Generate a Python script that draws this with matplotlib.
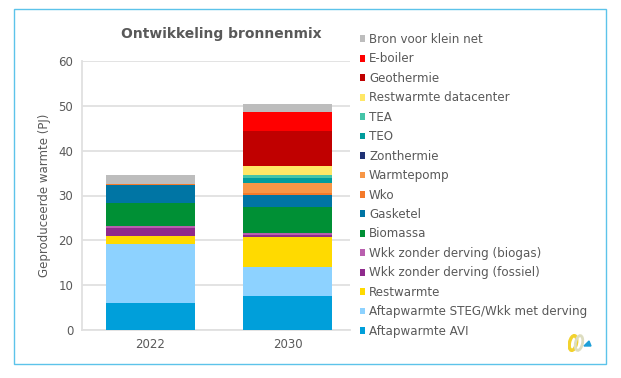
import matplotlib
matplotlib.use("Agg")
import matplotlib.pyplot as plt
from matplotlib.patches import Rectangle, Ellipse, Polygon

years = ["2022", "2030"]

# bottom of the stack first
sources = [
    "Aftapwarmte AVI",
    "Aftapwarmte STEG/Wkk met derving",
    "Restwarmte",
    "Wkk zonder derving (fossiel)",
    "Wkk zonder derving (biogas)",
    "Biomassa",
    "Gasketel",
    "Wko",
    "Warmtepomp",
    "Zonthermie",
    "TEO",
    "TEA",
    "Restwarmte datacenter",
    "Geothermie",
    "E-boiler",
    "Bron voor klein net",
]
values_2022 = [5.95, 13.15, 1.85, 1.7, 0.65, 5.1, 4.0, 0.2, 0, 0, 0, 0, 0, 0, 0, 1.95]
values_2030 = [7.65, 6.4, 6.8, 0.45, 0.3, 5.8, 2.6, 0.6, 2.1, 0, 1.15, 0.8, 1.85, 7.8, 4.25, 1.95]
colors = [
    "#009FDA", "#8DD2FF", "#FFDA00", "#8F2A8C", "#B95FAE", "#009035",
    "#0075A4", "#F47A2A", "#F79646", "#1F3275", "#009C9C", "#45C4A8",
    "#FFE766", "#C00000", "#FF0000", "#BDBDBD",
]
yticks = [0, 10, 20, 30, 40, 50, 60]

W, H = 621, 378
text_color = "#595959"
grid_color = "#E0E0E0"

fig = plt.figure(figsize=(W / 100, H / 100), dpi=100)

# light blue frame round the slide
fig.add_artist(Rectangle((14 / W, 1 - 364 / H), (606 - 14) / W, (364 - 9) / H,
                         transform=fig.transFigure, fill=False, edgecolor="#5CC3EA", linewidth=1))

ax = fig.add_axes([81.5 / W, 1 - 330 / H, (350.5 - 81.5) / W, (330 - 61) / H])

step = 137.4
bottoms = [0, 0]
for name, c, a, b in zip(sources, colors, values_2022, values_2030):
    ax.bar([0, 1], [a, b], width=0.645, bottom=bottoms, color=c, label=name, zorder=3)
    bottoms = [bottoms[0] + a, bottoms[1] + b]

ax.set_ylim(0, 60)
ax.set_xlim(-0.5, -0.5 + (350.5 - 81.5) / step)
ax.set_xticks([0, 1])
ax.set_xticklabels(years)
ax.set_yticks(yticks)
ax.grid(axis="y", color=grid_color, linewidth=1.3, zorder=0)
ax.set_axisbelow(True)
ax.spines["top"].set_visible(False)
ax.spines["right"].set_visible(False)
ax.spines["left"].set_color(grid_color)
ax.spines["bottom"].set_color(grid_color)
ax.spines["left"].set_linewidth(1.3)
ax.spines["bottom"].set_linewidth(1.3)
ax.tick_params(length=0, labelsize=8.5, labelcolor=text_color, pad=6)
ax.set_ylabel("Geproduceerde warmte (PJ)", fontsize=8.5, color=text_color, labelpad=5.5)

fig.text(221 / W, 1 - 34 / H, "Ontwikkeling bronnenmix", ha="center", va="center",
         fontsize=10, fontweight="bold", color=text_color)

handles, labels = ax.get_legend_handles_labels()
leg = fig.legend(handles[::-1], labels[::-1], loc="upper left", bbox_to_anchor=(359.5 / W, 1 - 33 / H),
                 frameon=False, fontsize=8.6, labelcolor=text_color, handlelength=0.5, handleheight=0.5,
                 handletextpad=0.3, labelspacing=0.54, borderaxespad=0, borderpad=0)

# small logo bottom right
logo = fig.add_axes([568 / W, 1 - 352 / H, 24 / W, 18 / H])
logo.set_xlim(0, 24)
logo.set_ylim(0, 18)
logo.axis("off")
logo.add_patch(Ellipse((5, 9), 7, 15, angle=-12, fill=False, edgecolor="#F2D22E", linewidth=2.4))
logo.add_patch(Ellipse((11, 9), 7, 15, angle=-12, fill=False, edgecolor="#DDDDC0", linewidth=2))
logo.add_patch(Polygon([(16, 6), (23, 6), (21, 11)], closed=True, color="#1E9FD8"))

fig.savefig("out.png", dpi=100)
plt.close(fig)
